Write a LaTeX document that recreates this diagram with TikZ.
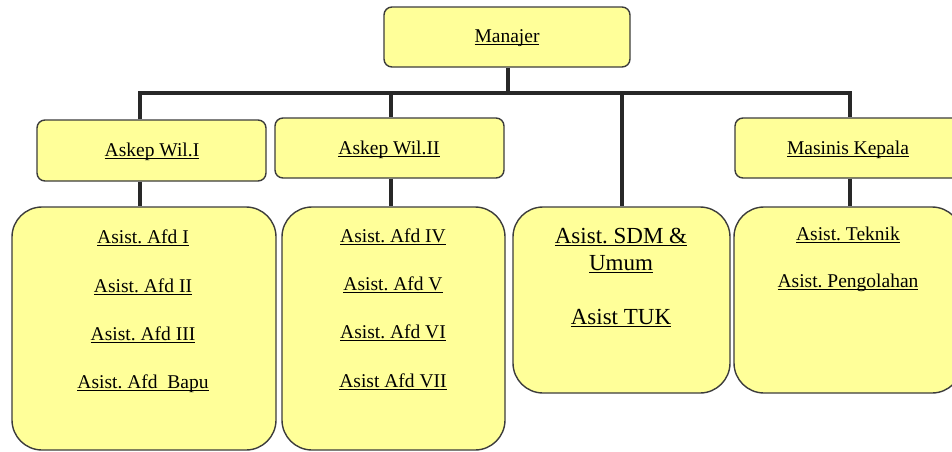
\documentclass[tikz,border=0pt]{standalone}
\usepackage{fontspec}
\setmainfont{Liberation Serif}
\definecolor{boxyellow}{RGB}{255,255,153}
\definecolor{edgegray}{RGB}{60,60,60}
\definecolor{linegray}{RGB}{40,40,40}
\newcommand\myul[1]{\setbox0\hbox{#1}\rlap{\rule[-2.6pt]{\wd0}{1.1pt}}\box0}
\tikzset{
  box/.style={draw=edgegray, line width=1.4pt, fill=boxyellow, rounded corners=8pt, inner sep=0pt},
  bigbox/.style={box, rounded corners=30pt},
  conn/.style={draw=linegray, line width=4.6pt, line join=miter},
  lbl/.style={font=\fontsize{19.5}{22}\selectfont, inner sep=0pt},
  biglbl/.style={font=\fontsize{23}{26}\selectfont, inner sep=0pt}
}
\begin{document}
\begin{tikzpicture}[x=1pt,y=-1pt]
\useasboundingbox (0,0) rectangle (952,451);
% boxes
\node[box, minimum width=246pt, minimum height=60pt] (man) at (507,37) {};
\node[box, minimum width=229pt, minimum height=61pt] (askI) at (151.5,150.5) {};
\node[box, minimum width=229pt, minimum height=60pt] (askII) at (389.5,148) {};
\node[box, minimum width=227pt, minimum height=60pt] (mas) at (848.5,148) {};
\node[bigbox, minimum width=264pt, minimum height=243pt] (b1) at (144,328.5) {};
\node[bigbox, minimum width=223pt, minimum height=243pt] (b2) at (393.5,328.5) {};
\node[bigbox, minimum width=217pt, minimum height=186pt] (b3) at (621.5,300) {};
\node[bigbox, minimum width=228pt, minimum height=186pt] (b4) at (848,300) {};
% connector coordinates
\coordinate (m0) at (508,93);
\coordinate (d1) at (140,93);
\coordinate (d2) at (391,93);
\coordinate (d3) at (622,93);
\coordinate (d4) at (850,93);
% connectors
\draw[conn] (d1 |- askI.north) -- (d1) -- (d4) -- (d4 |- mas.north);
\draw[conn] (m0 |- man.south) -- (m0);
\draw[conn] (d2) -- (d2 |- askII.north);
\draw[conn] (d3) -- (d3 |- b3.north);
\draw[conn] (d1 |- askI.south) -- (d1 |- b1.north);
\draw[conn] (d2 |- askII.south) -- (d2 |- b2.north);
\draw[conn] (d4 |- mas.south) -- (d4 |- b4.north);
% labels
\node[lbl] (tman) at (507,38) {\myul{Manajer}};
\node[lbl] (taskI) at (152,152) {\myul{Askep Wil.I}};
\node[lbl] (taskII) at (389,150) {\myul{Askep Wil.II}};
\node[lbl] (tmas) at (848,150) {\myul{Masinis Kepala}};
\node[lbl] (t11) at (143,238) {\myul{Asist.\ Afd I}};
\node[lbl] (t12) at (143,287) {\myul{Asist.\ Afd II}};
\node[lbl] (t13) at (143,335) {\myul{Asist.\ Afd III}};
\node[lbl] (t14) at (143,384) {\myul{Asist.\ Afd\ \ Bapu}};
\node[lbl] (t21) at (393,237) {\myul{Asist.\ Afd IV}};
\node[lbl] (t22) at (393,285) {\myul{Asist.\ Afd V}};
\node[lbl] (t23) at (393,333) {\myul{Asist.\ Afd VI}};
\node[lbl] (t24) at (393,382) {\myul{Asist Afd VII}};
\node[biglbl] (t31) at (621,237) {\myul{Asist.\ SDM \&}};
\node[biglbl] (t32) at (621,264) {\myul{Umum}};
\node[biglbl] (t33) at (621,318) {\myul{Asist TUK}};
\node[lbl] (t41) at (848,235) {\myul{Asist.\ Teknik}};
\node[lbl] (t42) at (848,283) {\myul{Asist.\ Pengolahan}};
\end{tikzpicture}
\end{document}
